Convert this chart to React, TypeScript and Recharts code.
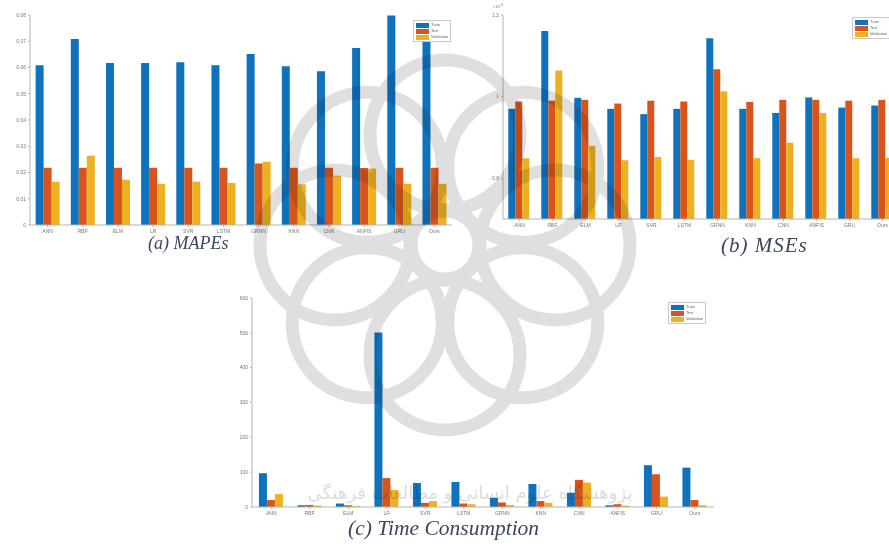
import { BarChart, Bar, XAxis, YAxis } from "recharts";

// methods compared in every panel
const methods = ["ANN", "RBF", "ELM", "LR", "SVR", "LSTM", "GRNN", "KNN", "CNN", "ANFIS", "GRU", "Ours"];
const seriesNames = ["Train", "Test", "Validation"];
const colors = ["#0f72bd", "#d9541a", "#edb120"];

// (a) MAPE
const mapeTrain = [0.0609, 0.0709, 0.0617, 0.0617, 0.062, 0.0609, 0.0651, 0.0605, 0.0586, 0.0674, 0.0798, 0.071];
const mapeTest = [0.0218, 0.0218, 0.0218, 0.0218, 0.0218, 0.0218, 0.0234, 0.0218, 0.0218, 0.0217, 0.0218, 0.0218];
const mapeValid = [0.0165, 0.0264, 0.0172, 0.0157, 0.0165, 0.016, 0.0241, 0.0155, 0.0188, 0.0215, 0.0157, 0.0157];
const mapeTicks = [0, 0.01, 0.02, 0.03, 0.04, 0.05, 0.06, 0.07, 0.08];

// (b) MSE, x 10^-3
const mseTrain = [0.97, 1.161, 0.997, 0.97, 0.957, 0.97, 1.143, 0.97, 0.96, 0.998, 0.973, 0.978];
const mseTest = [0.988, 0.99, 0.992, 0.983, 0.99, 0.988, 1.067, 0.987, 0.992, 0.992, 0.99, 0.992];
const mseValid = [0.849, 1.064, 0.879, 0.844, 0.852, 0.845, 1.013, 0.849, 0.887, 0.96, 0.849, 0.85];
const mseTicks = [0.8, 1, 1.2];

// (c) time consumption
const timeTrain = [97, 5, 10, 501, 69, 72, 26, 66, 41, 5, 120, 113];
const timeTest = [20, 6, 5, 83, 12, 10, 13, 17, 78, 8, 94, 20];
const timeValid = [37, 4, 3, 49, 17, 8, 6, 12, 70, 4, 30, 5];
const timeTicks = [0, 100, 200, 300, 400, 500, 600];

const build = (a: number[], b: number[], c: number[]) =>
  methods.map((m, i) => ({ name: m, s1: a[i], s2: b[i], s3: c[i] }));

const mapeData = build(mapeTrain, mapeTest, mapeValid);
const mseData = build(mseTrain, mseTest, mseValid);
const timeData = build(timeTrain, timeTest, timeValid);

const axisColor = "#b5b5b5";
const tickStyle = { fontSize: 5, fill: "#777", fontFamily: "Liberation Sans" };

function Panel({
  data,
  width,
  height,
  domain,
  ticks,
  gap,
}: {
  data: any[];
  width: number;
  height: number;
  domain: [number, number];
  ticks: number[];
  gap: string;
}) {
  return (
    <BarChart
      width={width}
      height={height}
      data={data}
      margin={{ top: 15, right: 8, left: 0, bottom: 0 }}
      barCategoryGap={gap}
      barGap={0}
    >
      <XAxis
        dataKey="name"
        interval={0}
        height={13}
        tick={tickStyle}
        tickSize={2}
        axisLine={{ stroke: axisColor }}
        tickLine={{ stroke: axisColor }}
      />
      <XAxis xAxisId="top" orientation="top" height={0} tick={false} tickLine={false} axisLine={{ stroke: axisColor }} />
      <YAxis
        width={30}
        domain={domain}
        ticks={ticks}
        allowDataOverflow
        tick={tickStyle}
        tickSize={2}
        axisLine={{ stroke: axisColor }}
        tickLine={{ stroke: axisColor }}
      />
      <YAxis yAxisId="right" orientation="right" width={0} tick={false} tickLine={false} axisLine={{ stroke: axisColor }} />
      <Bar dataKey="s1" fill={colors[0]} isAnimationActive={false} />
      <Bar dataKey="s2" fill={colors[1]} isAnimationActive={false} />
      <Bar dataKey="s3" fill={colors[2]} isAnimationActive={false} />
    </BarChart>
  );
}

function LegendBox({ left, top }: { left: number; top: number }) {
  return (
    <div
      style={{
        position: "absolute",
        left,
        top,
        background: "#fff",
        border: "1px solid #c8c8c8",
        padding: "1px 2px",
        fontFamily: "Liberation Sans",
        fontSize: 4,
        color: "#666",
        lineHeight: "6px",
      }}
    >
      {seriesNames.map((s, i) => (
        <div key={s} style={{ display: "flex", alignItems: "center" }}>
          <span style={{ display: "inline-block", width: 13, height: 5, background: colors[i], marginRight: 2 }} />
          {s}
        </div>
      ))}
    </div>
  );
}

const captionStyle: React.CSSProperties = {
  position: "absolute",
  fontFamily: "Liberation Serif",
  fontStyle: "italic",
  color: "#3a4660",
  whiteSpace: "nowrap",
};

// light rosette stamp laid over the whole sheet
function Watermark() {
  const cx = 445;
  const cy = 245;
  const angles = [0, 45, 90, 135, 180, 225, 270, 315];
  return (
    <svg
      width={889}
      height={546}
      style={{ position: "absolute", left: 0, top: 0, pointerEvents: "none", mixBlendMode: "multiply" }}
    >
      <g fill="none" stroke="#8c8c8c" strokeWidth={13} opacity={0.28}>
        {angles.map((a) => {
          const r = (a * Math.PI) / 180;
          return <circle key={a} cx={cx + 110 * Math.sin(r)} cy={cy - 110 * Math.cos(r)} r={75} />;
        })}
        <circle cx={cx} cy={cy} r={34} />
      </g>
      <text
        x={470}
        y={499}
        textAnchor="middle"
        fontSize={18}
        fontFamily="DejaVu Sans"
        fill="#9a9a9a"
        opacity={0.35}
        direction="rtl"
      >
        پژوهشگاه علوم انسانی و مطالعات فرهنگی
      </text>
    </svg>
  );
}

export default function App() {
  return (
    <div style={{ position: "fixed", left: 0, top: 0, width: 889, height: 546, overflow: "hidden", background: "#fff" }}>
      <div style={{ position: "absolute", left: 0, top: 0 }}>
        <Panel data={mapeData} width={460} height={238} domain={[0, 0.08]} ticks={mapeTicks} gap="16%" />
      </div>
      <LegendBox left={413} top={20} />
      <span style={{ ...captionStyle, left: 148, top: 233, fontSize: 18 }}>(a) MAPEs</span>

      <div style={{ position: "absolute", left: 473, top: 0 }}>
        <Panel data={mseData} width={434} height={232} domain={[0.7, 1.2]} ticks={mseTicks} gap="16%" />
      </div>
      <div style={{ position: "absolute", left: 493, top: 3, fontSize: 4, color: "#777", fontFamily: "Liberation Sans" }}>
        ×10<sup>-3</sup>
      </div>
      <LegendBox left={852} top={17} />
      <span style={{ ...captionStyle, left: 721, top: 233, fontSize: 21, letterSpacing: 1 }}>(b) MSEs</span>

      <div style={{ position: "absolute", left: 222, top: 283 }}>
        <Panel data={timeData} width={500} height={237} domain={[0, 600]} ticks={timeTicks} gap="18%" />
      </div>
      <LegendBox left={668} top={302} />
      <span style={{ ...captionStyle, left: 348, top: 516, fontSize: 21.5 }}>(c) Time Consumption</span>

      <Watermark />
    </div>
  );
}
